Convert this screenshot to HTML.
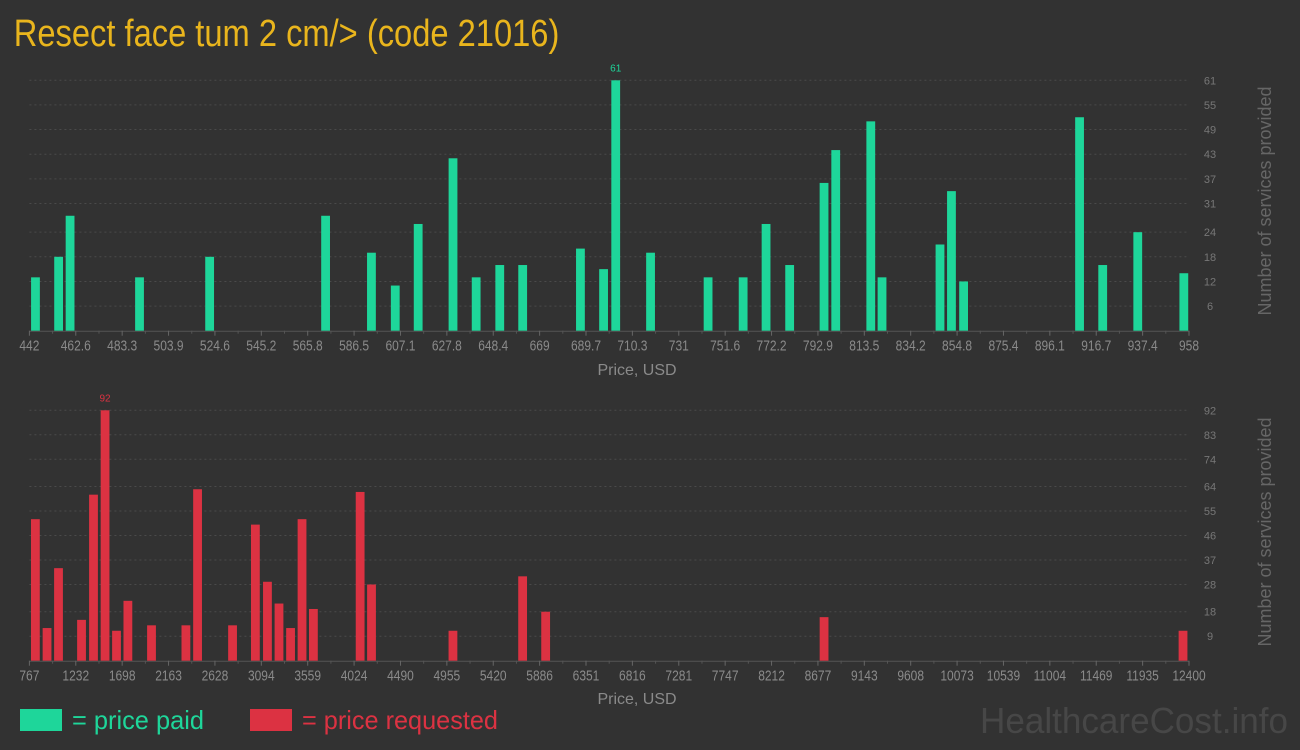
<!DOCTYPE html>
<html><head><meta charset="utf-8"><style>
body{margin:0;background:#323232;width:1300px;height:750px;overflow:hidden;font-family:"Liberation Sans",sans-serif}
svg{display:block}
</style></head><body>
<svg id="c" width="1300" height="750">
<text x="16" y="46" fill="#e9b51d" font-size="38" transform="scale(0.86,1)">Resect face tum 2 cm/&gt; (code 21016)</text>
<rect x="20" y="709" width="42" height="22" fill="#1ed69a"/>
<text x="72" y="729" fill="#1ed69a" font-size="26" textLength="132" lengthAdjust="spacingAndGlyphs">= price paid</text>
<rect x="250" y="709" width="42" height="22" fill="#dc3242"/>
<text x="302" y="729" fill="#dc3242" font-size="26" textLength="196" lengthAdjust="spacingAndGlyphs">= price requested</text>
<text x="1288" y="733" fill="#474747" font-size="36" text-anchor="end" textLength="308" lengthAdjust="spacingAndGlyphs">HealthcareCost.info</text>
</svg>
<script>
const paidPrices=[444.7,455,460.1,491,522.2,573.8,594.2,604.8,615,630.5,640.8,651.3,661.5,687.2,697.5,702.9,718.4,744,759.6,769.8,780.3,795.6,800.8,816.4,821.4,847.2,852.3,857.7,909.3,919.6,935.2,955.7];
const paidCounts=[13,18,28,13,18,28,19,11,26,42,13,16,16,20,15,61,19,13,13,26,16,36,44,51,13,21,34,12,52,16,24,14];
const paidXTicks=["442","462.6","483.3","503.9","524.6","545.2","565.8","586.5","607.1","627.8","648.4","669","689.7","710.3","731","751.6","772.2","792.9","813.5","834.2","854.8","875.4","896.1","916.7","937.4","958"];
const paidYTicks=[6,12,18,24,31,37,43,49,55,61];
const reqPrices=[827,944,1059,1290,1410,1526,1641,1755,1992,2337,2454,2805,3034,3155,3271,3387,3502,3616,4085,4199,5016,5715,5946,8739,12340];
const reqCounts=[52,12,34,15,61,92,11,22,13,13,63,13,50,29,21,12,52,19,62,28,11,31,18,16,11];
const reqXTicks=["767","1232","1698","2163","2628","3094","3559","4024","4490","4955","5420","5886","6351","6816","7281","7747","8212","8677","9143","9608","10073","10539","11004","11469","11935","12400"];
const reqYTicks=[9,18,28,37,46,55,64,74,83,92];

const svg=document.getElementById('c');
const NS='http://www.w3.org/2000/svg';
function mk(tag,attrs,parent){const e=document.createElementNS(NS,tag);for(const k in attrs)e.setAttribute(k,attrs[k]);(parent||svg).appendChild(e);return e;}

function drawChart(prefix,prices,counts,xt,yt,color,base,top,xTitleY,yTitleY){
  const x0=29.4,x1=1189;
  const xmin=+xt[0],xmax=+xt[xt.length-1],ymax=yt[yt.length-1];
  const xs=v=>x0+(v-xmin)/(xmax-xmin)*(x1-x0);
  const ys=v=>base-v/ymax*(base-top);
  const g=mk('g',{});
  
  
  yt.forEach(t=>{
    const l=mk('line',{x1:x0,x2:x1,y1:ys(t),y2:ys(t),stroke:'#4a4a4a','stroke-dasharray':'2,3'},g);
    
    
    const tx=mk('text',{x:1210,y:ys(t)+4,fill:'#777','font-size':11,'text-anchor':'middle'},g);
    
    
    tx.textContent=t;
  });
  const ax=mk('line',{x1:x0,x2:x1,y1:base+0.5,y2:base+0.5,stroke:'#555'},g);
  
  
  xt.forEach((t,i)=>{
    const v=xmin+(xmax-xmin)*i/(xt.length-1);
    const px=xs(v);
    const tk=mk('line',{x1:px,x2:px,y1:base,y2:base+5,stroke:'#666'},g);
    
    
    if(i<xt.length-1){const m=px+(x1-x0)/(xt.length-1)/2;
      const mt=mk('line',{x1:m,x2:m,y1:base,y2:base+3,stroke:'#555'},g);
      
      }
    const tx=mk('text',{x:px,y:base+20,fill:'#8a8a8a','font-size':15,'text-anchor':'middle',transform:`translate(${px*0.2},0) scale(0.8,1)`},g);
    tx.setAttribute('x',px);
    tx.setAttribute('transform',`translate(${px},0) scale(0.8,1) translate(${-px},0)`);
    
    
    tx.textContent=t;
  });
  let maxI=0;counts.forEach((c,i)=>{if(c>counts[maxI])maxI=i;});
  prices.forEach((p,i)=>{
    const cx=xs(p),y=ys(counts[i]);
    const b=mk('rect',{x:cx-4.4,y:y,width:8.8,height:base-y,fill:color},g);
    
    
  });
  const mx=xs(prices[maxI]),my=ys(counts[maxI]);
  const vl=mk('text',{x:mx,y:my-9,fill:color,'font-size':10,'text-anchor':'middle'},g);
  
  
  vl.textContent=counts[maxI];
  const xtl=mk('text',{x:637,y:xTitleY,fill:'#8a8a8a','font-size':16,'text-anchor':'middle'},g);
  
  
  xtl.textContent='Price, USD';
  const ytl=mk('text',{x:0,y:0,fill:'#666','font-size':18,'text-anchor':'middle',transform:`translate(1271,${yTitleY}) rotate(-90)`},g);
  
  
  ytl.textContent='Number of services provided';
}
drawChart('paid',paidPrices,paidCounts,paidXTicks,paidYTicks,'#1ed69a',330.7,80.3,375,201);
drawChart('requested',reqPrices,reqCounts,reqXTicks,reqYTicks,'#dc3242',660.7,410.3,704,532);
</script>
</body></html>
